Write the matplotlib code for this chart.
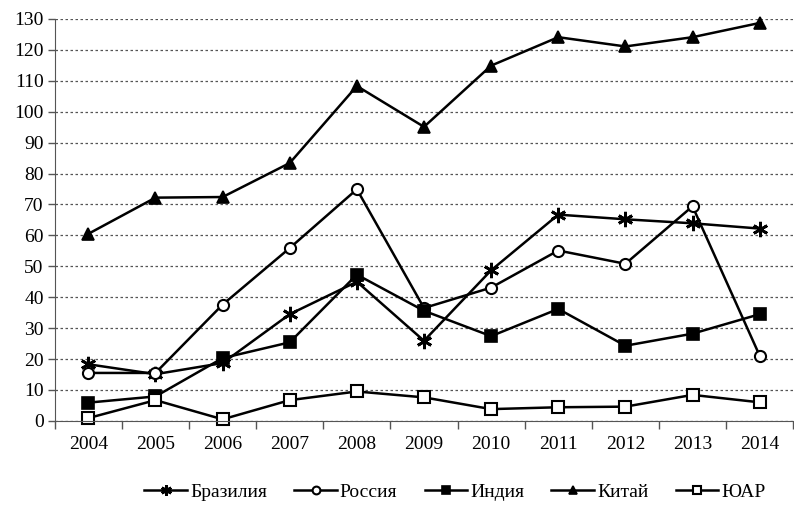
import matplotlib
matplotlib.use("Agg")
import matplotlib.pyplot as plt

years = [2004, 2005, 2006, 2007, 2008, 2009, 2010, 2011, 2012, 2013, 2014]

brazil = [18.3, 15.1, 18.7, 34.5, 45.0, 25.9, 48.7, 66.7, 65.2, 63.9, 62.2]
russia = [15.5, 15.5, 37.6, 55.9, 74.9, 36.5, 43.1, 55.1, 50.8, 69.4, 21.1]
india = [5.9, 7.9, 20.3, 25.4, 47.3, 35.6, 27.4, 36.2, 24.3, 28.2, 34.5]
china = [60.5, 72.2, 72.4, 83.4, 108.3, 95.1, 114.9, 124.1, 121.1, 124.1, 128.7]
sa = [0.9, 6.7, 0.5, 6.7, 9.5, 7.6, 3.8, 4.4, 4.6, 8.4, 6.0]

series = [
    ("Бразилия", brazil, dict(marker=(6, 2, 0), markersize=11, markerfacecolor="black", markeredgewidth=2.0)),
    ("Россия", russia, dict(marker="o", markersize=8, markerfacecolor="white", markeredgewidth=1.5)),
    ("Индия", india, dict(marker="s", markersize=8.5, markerfacecolor="black", markeredgewidth=1.2)),
    ("Китай", china, dict(marker="^", markersize=9, markerfacecolor="black", markeredgewidth=1.2)),
    ("ЮАР", sa, dict(marker="s", markersize=8.5, markerfacecolor="white", markeredgewidth=1.5)),
]

plt.rcParams["font.family"] = ["Liberation Serif", "DejaVu Serif"]
plt.rcParams["font.size"] = 14

fig = plt.figure(figsize=(7.94, 5.12), dpi=100)
ax = fig.add_axes([0.069, 0.178, 0.93, 0.785])

x = list(range(len(years)))

for name, vals, style in series:
    ax.plot(x, vals, color="black", linewidth=1.8, markeredgecolor="black",
            label=name, clip_on=False, **style)

ax.set_xlim(-0.5, len(years) - 0.5)
ax.set_ylim(0, 130)
ax.set_yticks(range(0, 131, 10))

ax.set_xticks([i - 0.5 for i in range(len(years) + 1)])
ax.set_xticklabels([])
ax.set_xticks(x, minor=True)
ax.set_xticklabels([str(y) for y in years], minor=True)
ax.tick_params(axis="x", which="major", length=6, width=1, color="#555555", direction="out")
ax.tick_params(axis="x", which="minor", length=0, pad=11)
ax.tick_params(axis="y", length=5, width=1, color="#555555", direction="out", pad=3)

ax.grid(axis="y", linestyle=(0, (2, 2)), color="#555555", linewidth=0.9)
ax.set_axisbelow(True)

for side in ["top", "right"]:
    ax.spines[side].set_visible(False)
ax.spines["left"].set_color("#555555")
ax.spines["bottom"].set_color("#555555")

fig.legend(loc="lower center", bbox_to_anchor=(0.573, -0.012), ncol=5, frameon=False,
           handlelength=2.2, handletextpad=0.15, columnspacing=1.4, markerscale=0.7)

fig.savefig("out.png", dpi=100)
